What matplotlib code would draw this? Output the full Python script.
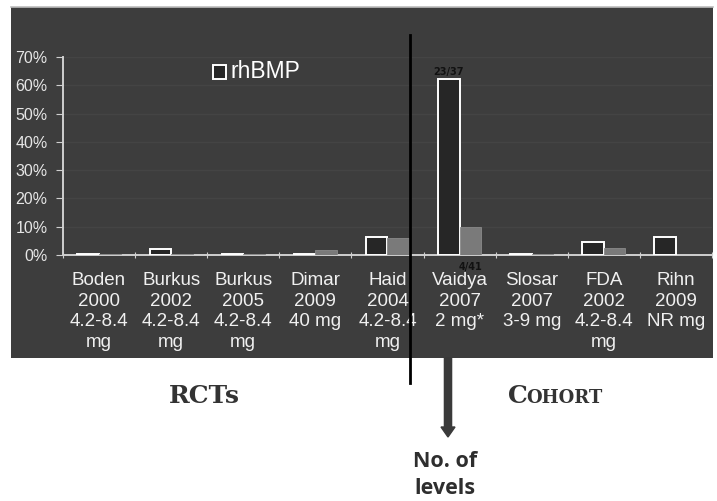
import matplotlib
matplotlib.use('Agg')
import numpy as np
import matplotlib.pyplot as plt
from matplotlib.patches import Rectangle, FancyArrow
from matplotlib.lines import Line2D

# studies and their dose info
studies = ["Boden", "Burkus", "Burkus", "Dimar", "Haid", "Vaidya", "Slosar", "FDA", "Rihn"]
years = ["2000", "2002", "2005", "2009", "2004", "2007", "2007", "2002", "2009"]
doses = ["4.2-8.4\nmg", "4.2-8.4\nmg", "4.2-8.4\nmg", "40 mg", "4.2-8.4\nmg",
         "2 mg*", "3-9 mg", "4.2-8.4\nmg", "NR mg"]

# percentages
rhbmp = [0.5, 2.0, 0.5, 0.5, 6.2, 62.2, 0.5, 4.5, 6.2]
other = [0.2, 0.2, 0.2, 1.8, 6.0, 9.8, 0.2, 2.3, 0.0]

# data labels still legible in the picture
rhbmp_labels = {5: "23/37"}
other_labels = {5: "4/41"}

W, H = 717, 501
fig = plt.figure(figsize=(W / 100, H / 100), dpi=100)
fig.patch.set_facecolor('white')

def fx(px):
    return px / W

def fy(py):
    return 1 - py / H

# dark panel behind the chart
fig.patches.append(Rectangle((fx(11), fy(358)), fx(713 - 11), (358 - 7) / H,
                             transform=fig.transFigure, facecolor='#3d3d3d',
                             edgecolor='none', zorder=0))
fig.lines.append(Line2D([fx(11), fx(713)], [fy(7), fy(7)], transform=fig.transFigure,
                        color='#bdbdbd', lw=1.2, zorder=1))

ax = fig.add_axes([fx(63), fy(255), fx(712 - 63), (255 - 57) / H])
ax.set_facecolor('none')
ax.set_zorder(2)

x = np.arange(len(studies)) + 0.5
bw = 0.3
ax.bar(x - bw / 2, rhbmp, bw, color='#262626', edgecolor='white', lw=1.4, zorder=3)
ax.bar(x + bw / 2, other, bw, color='#7a7a7a', edgecolor='#8a8a8a', lw=0.6, zorder=3)

for i, t in rhbmp_labels.items():
    ax.text(x[i] - bw / 2, rhbmp[i] + 0.8, t, ha='center', va='bottom',
            fontsize=7, color='#111111', fontweight='bold')
for i, t in other_labels.items():
    ax.text(x[i] + bw / 2, -2.5, t, ha='center', va='top',
            fontsize=7, color='#111111', fontweight='bold')

# faint horizontal bands
for v in range(10, 71, 10):
    ax.axhline(v, color='#444444', lw=1.0, zorder=1)

ax.set_xlim(0, len(studies))
ax.set_ylim(0, 70)
ax.set_yticks(range(0, 71, 10))
ax.set_yticklabels([f"{v}%" for v in range(0, 71, 10)], color='#e6e6e6', fontsize=11.5)
ax.set_xticks(range(len(studies) + 1))
ax.set_xticklabels([])
ax.set_xticks(x, minor=True)
ax.set_xticklabels([f"{s}\n{y}\n{d}" for s, y, d in zip(studies, years, doses)],
                   minor=True, color='#f0f0f0', fontsize=13.5, va='top',
                   linespacing=1.3, family='Liberation Sans')
ax.tick_params(axis='x', which='minor', length=0, pad=12)
ax.tick_params(axis='x', which='major', length=5, color='#d0d0d0', direction='inout')
ax.tick_params(axis='y', length=5, color='#d0d0d0', pad=6)
for lab in ax.get_yticklabels():
    lab.set_family('Liberation Sans')
for s in ['top', 'right']:
    ax.spines[s].set_visible(False)
for s in ['left', 'bottom']:
    ax.spines[s].set_color('#d0d0d0')
    ax.spines[s].set_linewidth(1.4)

# legend
fig.patches.append(Rectangle((fx(213), fy(79)), 13 / W, 14 / H, transform=fig.transFigure,
                             facecolor='#262626', edgecolor='white', lw=1.4, zorder=4))
fig.text(fx(231), fy(72), "rhBMP", color='white', fontsize=16.5, va='center',
         family='Liberation Sans', zorder=4)

# divider between RCTs and cohort studies
fig.lines.append(Line2D([fx(410), fx(410)], [fy(35), fy(383)], transform=fig.transFigure,
                        color='black', lw=2, zorder=5))

# arrow to the "No. of levels" note
fig.patches.append(FancyArrow(
    fx(448), fy(358), 0, -(437 - 358) / H, width=5 / H, head_width=14 / W,
    head_length=10 / H, length_includes_head=True, transform=fig.transFigure,
    color='#3a3a3a', zorder=5))
fig.text(fx(445), fy(475), "No. of\nlevels", ha='center', va='center', fontsize=15.5,
         fontweight='bold', color='#2e2e2e', linespacing=1.4, family='Open Sans')

fig.text(fx(204), fy(396), "RCTs", ha='center', va='center', fontsize=18,
         fontweight='bold', color='#333333', family='DejaVu Serif')
fig.text(fx(508), fy(396), "C", ha='left', va='center', fontsize=18,
         fontweight='bold', color='#333333', family='DejaVu Serif')
fig.text(fx(526), fy(398), "OHORT", ha='left', va='center', fontsize=13,
         fontweight='bold', color='#333333', family='DejaVu Serif')

plt.savefig('out.png', dpi=100)
